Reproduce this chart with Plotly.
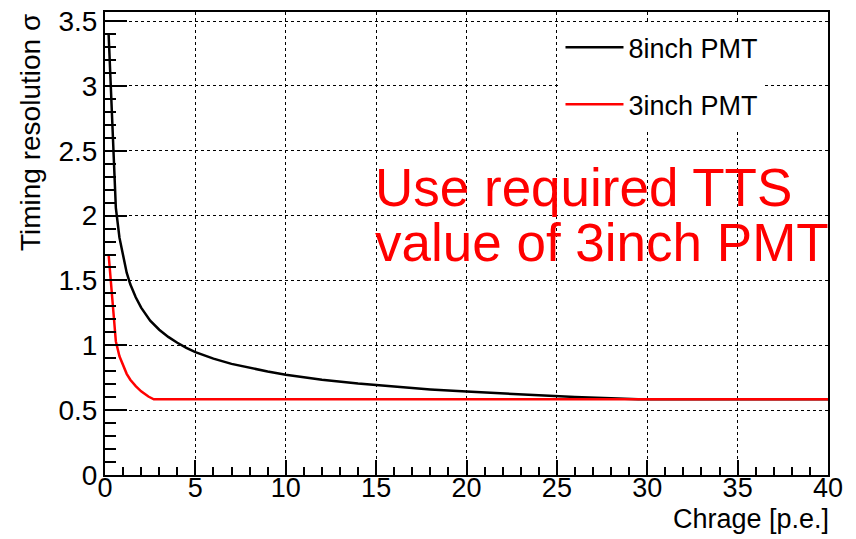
import plotly.graph_objects as go

# ---- data ----
charge_8inch = [0.2, 0.6, 0.8, 1.0, 1.2, 1.4, 1.7, 2.0, 2.5, 3.0, 3.5, 4.0, 4.5, 5.0, 6.0,
                7.0, 8.0, 9.0, 10.0, 12.0, 14.0, 16.0, 18.0, 20.0, 22.0, 24.0, 26.0, 28.0,
                29.5, 35.0, 40.0]
sigma_8inch = [3.40, 2.06, 1.83, 1.68, 1.56, 1.47, 1.37, 1.29, 1.19, 1.12, 1.065, 1.02, 0.98,
               0.948, 0.897, 0.857, 0.825, 0.798, 0.773, 0.735, 0.705, 0.68, 0.66, 0.643,
               0.628, 0.615, 0.602, 0.591, 0.584, 0.584, 0.584]

charge_3inch = [0.2, 0.6, 0.8, 1.0, 1.2, 1.4, 1.7, 2.0, 2.4, 2.7, 3.0, 40.0]
sigma_3inch = [1.70, 1.03, 0.915, 0.84, 0.78, 0.735, 0.685, 0.645, 0.605, 0.584, 0.584, 0.584]

series_names = ["8inch PMT", "3inch PMT"]
x_ticks = [0, 5, 10, 15, 20, 25, 30, 35, 40]
y_ticks = [0, 0.5, 1, 1.5, 2, 2.5, 3, 3.5]
y_tick_text = ["0", "0.5", "1", "1.5", "2", "2.5", "3", "3.5"]
x_title = "Chrage [p.e.]"
y_title = "Timing resolution σ"
note_lines = ["Use required TTS", "value of 3inch PMT"]

FONT = "Liberation Sans, Arial, Helvetica, sans-serif"

fig = go.Figure()
fig.add_trace(go.Scatter(x=charge_8inch, y=sigma_8inch, mode="lines", name=series_names[0],
                         line=dict(color="black", width=2.5), legendgroup="a"))
fig.add_trace(go.Scatter(x=charge_3inch, y=sigma_3inch, mode="lines", name=series_names[1],
                         line=dict(color="#ff0000", width=2.5), legendgroup="b"))

axis_common = dict(
    showline=True, linecolor="black", linewidth=2, mirror=True,
    showgrid=True, gridcolor="black", griddash="dot", gridwidth=1,
    zeroline=False, ticks="inside", tickcolor="black", tickwidth=1.5,
)

fig.update_xaxes(range=[0, 40], tickvals=x_ticks, ticklen=15, ticklabelstandoff=-12,
                 tickfont=dict(family=FONT, size=27, color="black"),
                 minor=dict(ticks="inside", ticklen=8, dtick=1, tickcolor="black",
                            tickwidth=1.5, showgrid=False),
                 **axis_common)
fig.update_yaxes(range=[0, 3.57], tickvals=y_ticks, ticktext=y_tick_text, ticklen=22,
                 tickfont=dict(family=FONT, size=28, color="black"),
                 minor=dict(ticks="inside", ticklen=11, dtick=0.1, tick0=0, tickcolor="black",
                            tickwidth=1.5, showgrid=False),
                 **axis_common)

fig.add_annotation(text=y_title, xref="paper", yref="paper", x=-0.103, y=1.0,
                   xanchor="center", yanchor="top", textangle=-90, showarrow=False,
                   font=dict(family=FONT, size=28, color="black"))
fig.add_annotation(text=x_title, xref="paper", yref="paper", x=1.004, y=-0.096,
                   xanchor="right", yanchor="middle", showarrow=False,
                   font=dict(family=FONT, size=27, color="black"))
fig.add_annotation(text=note_lines[0], x=14.83, y=2.215, xanchor="left", yanchor="middle",
                   showarrow=False, font=dict(family=FONT, size=53, color="#ff0000"))
fig.add_annotation(text=note_lines[1], x=14.83, y=1.79, xanchor="left", yanchor="middle",
                   showarrow=False, font=dict(family=FONT, size=53, color="#ff0000"))

fig.update_layout(
    width=856, height=539, autosize=False,
    margin=dict(l=104.5, r=27.5, t=6.3, b=64.1),
    paper_bgcolor="white", plot_bgcolor="white",
    font=dict(family=FONT, color="black"),
    showlegend=True,
    legend=dict(x=0.630, y=0.976, xanchor="left", yanchor="top", bgcolor="white",
                borderwidth=0, font=dict(family=FONT, size=27, color="black"),
                tracegroupgap=19, itemwidth=58),
)

fig.write_html("out.html")
